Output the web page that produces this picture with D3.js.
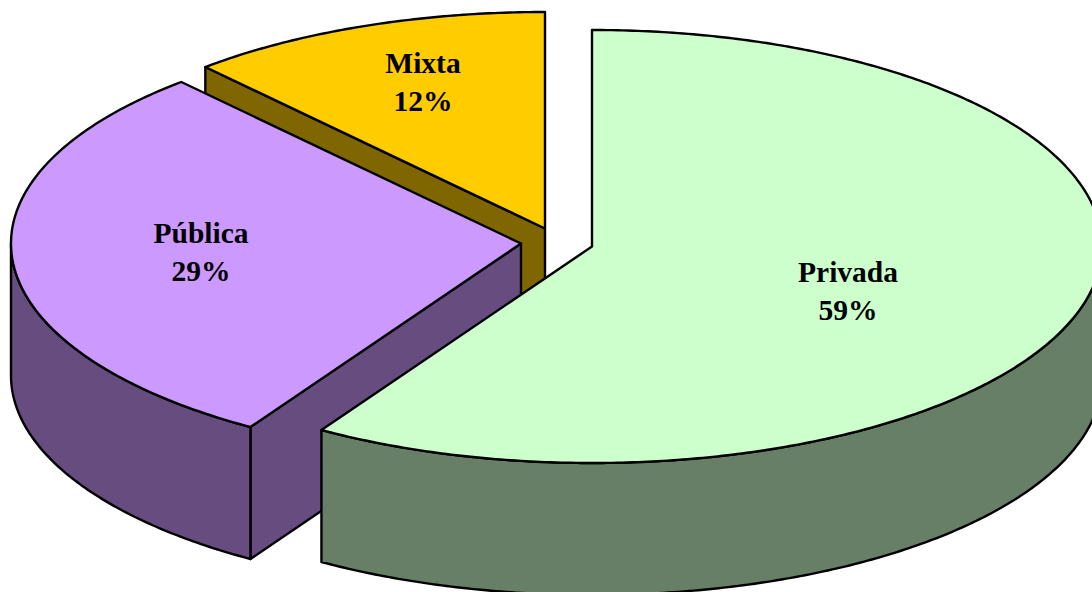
<!DOCTYPE html>
<html><head><meta charset="utf-8">
<style>html,body{margin:0;padding:0;background:#fff;overflow:hidden}</style>
<script src="https://d3js.org/d3.v7.min.js"></script></head>
<body><svg id="c" width="1092" height="592"></svg>
<script>
const categories = ["Privada", "Pública", "Mixta"];
const values = [58.9, 29.5, 11.6];
const labels = ["59%", "29%", "12%"];
const topColors = ["#CCFFCC", "#CC99FF", "#FFCC00"];
const sideColors = ["#667F66", "#664C7F", "#7F6600"];
const apexX = [592, 521, 545];
const apexY = [246.5, 243.5, 228.5];
const labelX = [848, 201, 423];
const labelY = [282, 243, 73];
const rx = 510, ry = 216.5, depth = 132;

const svg = d3.select("#c");
const slices = d3.pie().sort(null).value((d) => d)(values);
const line = d3.line();
const arcPts = (i, a0, a1, dy) => {
  const sx = d3.scaleLinear().domain([-1, 1]).range([apexX[i] - rx, apexX[i] + rx]);
  const sy = d3.scaleLinear().domain([-1, 1]).range([apexY[i] - ry + dy, apexY[i] + ry + dy]);
  const n = Math.max(2, Math.ceil(Math.abs(a1 - a0) / 0.01));
  return d3.range(n + 1).map((k) => {
    const a = a0 + (a1 - a0) * k / n;
    return [sx(Math.sin(a)), sy(-Math.cos(a))];
  });
};
const style = (sel, fill) => sel.attr("fill", fill).attr("stroke", "#000")
  .attr("stroke-width", 2.4).attr("stroke-linejoin", "round");

[2, 1, 0].forEach((i) => {
  const s = slices[i];
  const g = svg.append("g");
  // cut face along the start edge, when it looks toward the viewer
  if (i > 0) {
    const p = arcPts(i, s.startAngle, s.startAngle, 0)[0];
    const apex = [apexX[i], apexY[i]];
    style(g.append("path").attr("d", line([apex, p, [p[0], p[1] + depth], [apex[0], apex[1] + depth]]) + "Z"), sideColors[i]);
  }
  // outer wall: the front half only
  const a0 = Math.max(s.startAngle, Math.PI / 2), a1 = Math.min(s.endAngle, 3 * Math.PI / 2);
  if (a1 > a0) {
    const up = arcPts(i, a0, a1, 0), down = arcPts(i, a0, a1, depth).reverse();
    style(g.append("path").attr("d", line(up.concat(down)) + "Z"), sideColors[i]);
  }
  // top face
  const rim = arcPts(i, s.startAngle, s.endAngle, 0);
  style(g.append("path").attr("d", line([[apexX[i], apexY[i]]].concat(rim)) + "Z"), topColors[i]);
});

categories.forEach((c, i) => {
  const t = svg.append("text").attr("text-anchor", "middle")
    .attr("font-family", "'Liberation Serif', serif").attr("font-weight", "bold")
    .attr("font-size", 29.5).attr("fill", "#000");
  t.append("tspan").attr("x", labelX[i]).attr("y", labelY[i]).text(c);
  t.append("tspan").attr("x", labelX[i]).attr("y", labelY[i] + 37.5).text(labels[i]);
});
</script></body></html>
